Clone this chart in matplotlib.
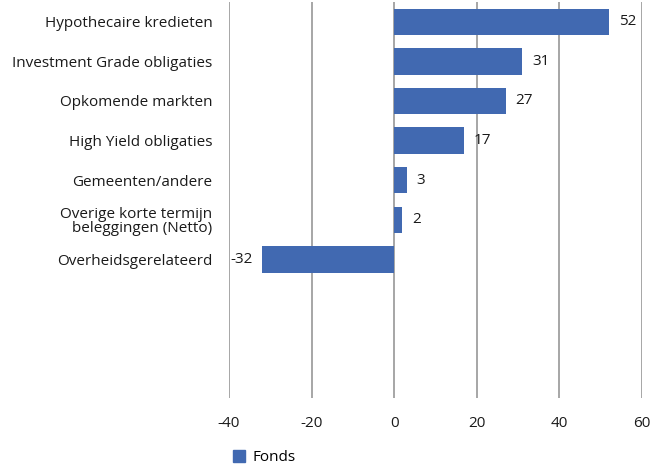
import matplotlib.pyplot as plt
from matplotlib.patches import Patch

plt.rcParams['font.family'] = ['Open Sans', 'DejaVu Sans']

categorieen = ["Hypothecaire kredieten", "Investment Grade obligaties", "Opkomende markten",
               "High Yield obligaties", "Gemeenten/andere",
               "Overige korte termijn\nbeleggingen (Netto)", "Overheidsgerelateerd"]
fonds = [52, 31, 27, 17, 3, 2, -32]
xticks = [-40, -20, 0, 20, 40, 60]

kleur = '#4169b1'
grijs = '#a6a6a6'
tekst = '#1a1a1a'
fs = 11

fig = plt.figure(figsize=(6.53, 4.66), dpi=100)
ax = fig.add_axes([0.3507, 0.146, 0.6323, 0.8497])

posities = list(range(len(categorieen)))
ax.barh(posities, fonds, height=0.67, color=kleur, zorder=3)

# waardelabels naast de balken
for p, v in zip(posities, fonds):
    if v >= 0:
        ax.annotate(str(v), (v, p), xytext=(7, 0), textcoords='offset points',
                    ha='left', va='center', fontsize=fs, color=tekst)
    else:
        ax.annotate(str(v), (v, p), xytext=(-7, 0), textcoords='offset points',
                    ha='right', va='center', fontsize=fs, color=tekst)

ax.set_xlim(-40, 60)
ax.set_ylim(9.5, -0.5)
ax.set_xticks(xticks)
ax.set_xticklabels([str(t) for t in xticks], fontsize=fs, color=tekst)
ax.set_yticks(posities)
ax.set_yticklabels(categorieen, fontsize=fs, color=tekst, linespacing=0.95)
ax.tick_params(axis='y', length=0, pad=12)
ax.tick_params(axis='x', length=0, pad=13)
ax.grid(axis='x', color=grijs, linewidth=1.4, zorder=0)
for s in ax.spines.values():
    s.set_visible(False)

fig.legend(handles=[Patch(color=kleur, label='Fonds')], loc='center left',
           bbox_to_anchor=(0.335, 0.018), frameon=False, fontsize=fs,
           handlelength=0.8, handleheight=0.8, handletextpad=0.5)

plt.savefig('out.png', dpi=100)
